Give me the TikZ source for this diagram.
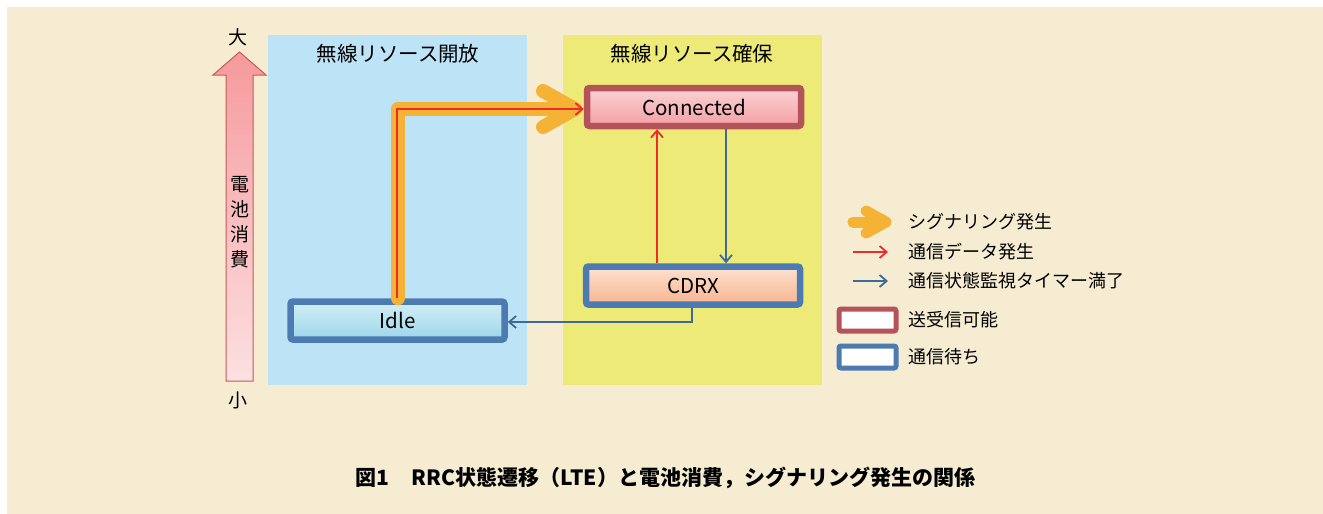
\documentclass[tikz,border=0pt]{standalone}
\usepackage{fontspec}
\setmainfont{Noto Sans CJK JP}
\usetikzlibrary{arrows.meta}
\definecolor{bg}{HTML}{F5ECD2}
\definecolor{panelblue}{HTML}{BDE3F6}
\definecolor{panelyel}{HTML}{EDEA78}
\definecolor{redbd}{HTML}{B5535A}
\definecolor{bluebd}{HTML}{4C7BB1}
\definecolor{sigor}{HTML}{F5B335}
\definecolor{datared}{HTML}{EE2B2B}
\definecolor{timerblue}{HTML}{3F6A98}
\definecolor{arrowbd}{HTML}{C8585A}
\definecolor{connA}{HTML}{FBD3D5}
\definecolor{connB}{HTML}{F3A0A4}
\definecolor{cdrxA}{HTML}{FDE2D2}
\definecolor{cdrxB}{HTML}{F7B48E}
\definecolor{idleA}{HTML}{D2EEF7}
\definecolor{idleB}{HTML}{9ED6EA}
\definecolor{battA}{HTML}{F59A9D}
\definecolor{battB}{HTML}{FCE0E1}
\tikzset{
  panel/.style={draw=none,minimum width=259pt,minimum height=350pt,anchor=north west},
  statebox/.style={line width=6.5pt,rounded corners=2.5pt,minimum width=214pt,minimum height=38pt,font=\fontsize{20.5}{22}\selectfont,inner sep=0pt},
  connbox/.style={statebox,draw=redbd,top color=connA,bottom color=connB},
  cdrxbox/.style={statebox,draw=bluebd,top color=cdrxA,bottom color=cdrxB},
  idlebox/.style={statebox,draw=bluebd,top color=idleA,bottom color=idleB},
  legbox/.style={line width=5pt,rounded corners=2pt,fill=white,minimum width=57pt,minimum height=22pt,inner sep=0pt},
  legtxt/.style={anchor=west,font=\fontsize{18}{20}\selectfont,inner sep=0pt},
  ttl/.style={font=\fontsize{20.5}{22}\selectfont,inner sep=0pt},
  thinred/.style={draw=datared,line width=1.8pt,-{Straight Barb[length=7pt,width=12pt,line width=1.8pt]}},
  thinblue/.style={draw=timerblue,line width=1.8pt,-{Straight Barb[length=7pt,width=12pt,line width=1.8pt]}},
  sigline/.style={draw=sigor,line width=14pt,line cap=round,line join=round},
}
\begin{document}
\begin{tikzpicture}[x=1pt,y=-1pt]
\useasboundingbox (0,0) rectangle (1323,514);
\fill[white] (0,0) rectangle (1323,514);
\fill[bg] (7,7) rectangle (1323,514);
% panels
\node[panel,fill=panelblue] (pb) at (268,35) {};
\node[panel,fill=panelyel] (py) at (563,35) {};
\node[ttl] (tb) at (398,54) {無線リソース開放};
\node[ttl] (ty) at (692,54) {無線リソース確保};
% battery arrow
\shade[top color=battA,bottom color=battB,draw=arrowbd,line width=1pt]
  (226,381) -- (226,75) -- (213,75) -- (239.5,52) -- (266,75) -- (253,75) -- (253,381) -- cycle;
\node[font=\fontsize{19}{21}\selectfont,inner sep=0pt] (big) at (238,37) {大};
\node[font=\fontsize{19}{21}\selectfont,inner sep=0pt] (small) at (238,400) {小};
\node[font=\fontsize{19}{25}\selectfont,align=center,inner sep=0pt] (batt) at (239.5,222) {電\\池\\消\\費};
% state boxes
\node[connbox] (conn) at (694,107) {Connected};
\node[cdrxbox] (cdrx) at (693,285.5) {CDRX};
\node[idlebox] (idle) at (397.5,320.5) {Idle};
% signaling arrow
\coordinate (sigcorner) at (398,109);
\coordinate (sigtip) at (575,109);
\draw[sigline] (idle.north -| sigcorner) -- (sigcorner) -- (sigtip);
\draw[sigline] (543,91) -- (sigtip) -- (543,127);
\coordinate (redcorner) at (397,109);
\draw[thinred] (idle.north -| redcorner) -- (redcorner) -- (redcorner -| conn.west);
% transitions
\coordinate (rx) at (657,0);
\coordinate (bx) at (726,0);
\draw[thinred] (cdrx.north -| rx) -- (conn.south -| rx);
\draw[thinblue] (conn.south -| bx) -- (cdrx.north -| bx);
\coordinate (bend) at (692,322);
\draw[thinblue] (cdrx.south -| bend) -- (bend) -- (bend -| idle.east);
% legend
\coordinate (l1) at (853,222);
\coordinate (l1t) at (882,222);
\draw[sigline,line width=11pt] (l1) -- (l1t);
\draw[sigline,line width=11pt] (866,211) -- (886,222) -- (866,233);
\node[legtxt] (lt1) at (908,222) {シグナリング発生};
\coordinate (l2) at (853,252);
\coordinate (l2t) at (888,252);
\draw[thinred,line width=1.5pt] (l2) -- (l2t);
\node[legtxt] (lt2) at (908,252) {通信データ発生};
\coordinate (l3) at (853,281);
\coordinate (l3t) at (888,281);
\draw[thinblue,line width=1.5pt] (l3) -- (l3t);
\node[legtxt] (lt3) at (908,281) {通信状態監視タイマー満了};
\node[legbox,draw=redbd] (lb1) at (867.5,320) {};
\node[legtxt] (lt4) at (908,320) {送受信可能};
\node[legbox,draw=bluebd] (lb2) at (867.5,357) {};
\node[legtxt] (lt5) at (908,357) {通信待ち};
% caption
\node[font=\fontsize{21}{23}\selectfont\bfseries,inner sep=0pt] (cap) at (665,478) {図1\hspace{1.1em}RRC状態遷移（LTE）と電池消費，シグナリング発生の関係};
\end{tikzpicture}
\end{document}
